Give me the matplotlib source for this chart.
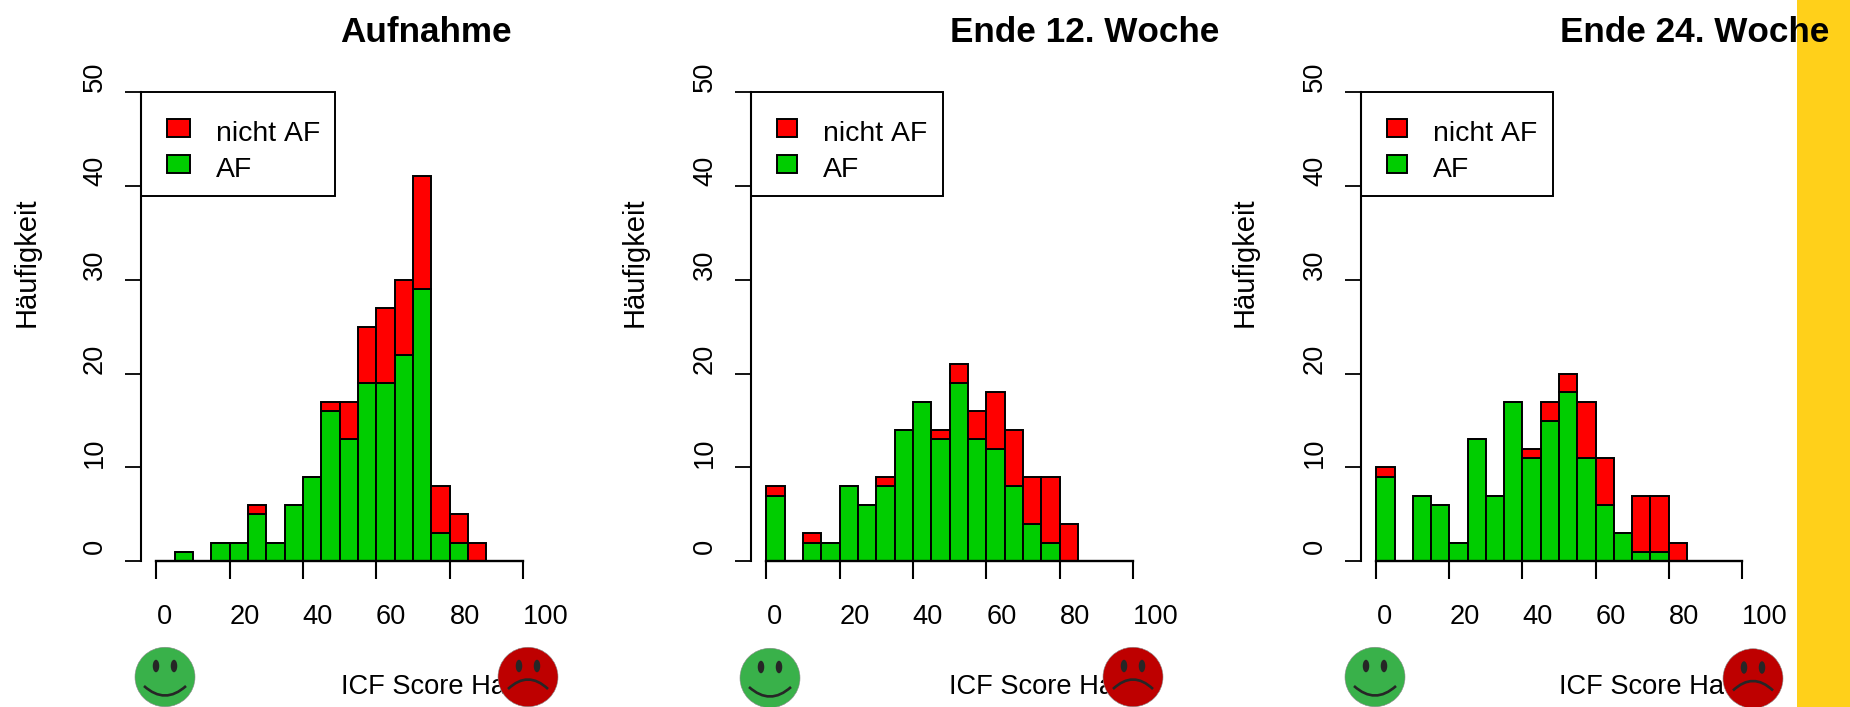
import matplotlib
matplotlib.use("Agg")
import matplotlib.pyplot as plt
import numpy as np
from matplotlib.patches import Rectangle, Ellipse, PathPatch, Patch
from matplotlib.path import Path
from matplotlib.transforms import Affine2D

plt.rcParams['font.family'] = ['Liberation Sans', 'DejaVu Sans']
plt.rcParams['text.kerning_factor'] = 12

# ---- data ----
bin_left = list(range(0, 100, 5))
titles = ["Aufnahme", "Ende 12. Woche", "Ende 24. Woche"]
aufnahme_af = [0, 1, 0, 2, 2, 5, 2, 6, 9, 16, 13, 19, 19, 22, 29, 3, 2, 0, 0, 0]
aufnahme_nicht = [0, 0, 0, 0, 0, 1, 0, 0, 0, 1, 4, 6, 8, 8, 12, 5, 3, 2, 0, 0]
w12_af = [7, 0, 2, 2, 8, 6, 8, 14, 17, 13, 19, 13, 12, 8, 4, 2, 0, 0, 0, 0]
w12_nicht = [1, 0, 1, 0, 0, 0, 1, 0, 0, 1, 2, 3, 6, 6, 5, 7, 4, 0, 0, 0]
w24_af = [9, 0, 7, 6, 2, 13, 7, 17, 11, 15, 18, 11, 6, 3, 1, 1, 0, 0, 0, 0]
w24_nicht = [1, 0, 0, 0, 0, 0, 0, 0, 1, 2, 2, 6, 5, 0, 6, 6, 2, 0, 0, 0]
x_ticks = [0, 20, 40, 60, 80, 100]
y_ticks = [0, 10, 20, 30, 40, 50]
legend_labels = ["nicht AF", "AF"]
y_label = "Häufigkeit"
x_label = "ICF Score Ha"

W, H = 1850, 707
GREEN, RED = "#00CD00", "#FF0000"
XLAB_SHIFT = [8, 15, 15, 15, 15, 23]
FS_TICK, FS_TITLE, FS_LEG = 19.6, 25.3, 20.4

series = [(aufnahme_af, aufnahme_nicht), (w12_af, w12_nicht), (w24_af, w24_nicht)]
# pixel layout of each panel
panels = [
    dict(x0=156.2, x1=523.0, ylab=26.5, ytxt=98, title_x=340, xlab_x=341, leg=(141, 334.5),
         hx=166.5, hw=23, clip=None, good=(165, 677), bad=(528, 677)),
    dict(x0=766.3, x1=1133.0, ylab=634.7, ytxt=708, title_x=950, xlab_x=949, leg=(751.3, 943),
         hx=777, hw=20, clip=1223, good=(770, 678), bad=(1133, 677)),
    dict(x0=1376.3, x1=1741.7, ylab=1245, ytxt=1318, title_x=1560, xlab_x=1559, leg=(1361, 1553),
         hx=1387, hw=20, clip=1829, good=(1375, 677), bad=(1753, 678.5)),
]
Y0, Y50 = 561.3, 92.0
PT = 72 / 100  # points per pixel

fig = plt.figure(figsize=(W / 100, H / 100), dpi=100, facecolor="white")

# background layer in pixel coordinates
bg = fig.add_axes([0, 0, 1, 1], zorder=0)
bg.set_xlim(0, W); bg.set_ylim(H, 0); bg.axis("off")
bg.add_patch(Rectangle((1797, 0), 53, H, facecolor="#FFD01A", edgecolor="none"))

# top layer in pixel coordinates
top = fig.add_axes([0, 0, 1, 1], zorder=5)
top.set_xlim(0, W); top.set_ylim(H, 0); top.axis("off"); top.patch.set_alpha(0)


def face(cx, cy, color, happy):
    top.add_patch(Ellipse((cx, cy), 60, 59.5, facecolor=color, edgecolor="#8a8a8a", lw=0.4, zorder=3))
    for dx in (-9, 9):
        top.add_patch(Ellipse((cx + dx, cy - 11), 6.5, 12.5, facecolor="#262626", edgecolor="none", zorder=4))
    if happy:
        pts = [(cx - 21, cy + 9), (cx, cy + 28), (cx + 21, cy + 9)]
    else:
        pts = [(cx - 20, cy + 12), (cx, cy - 7), (cx + 20, cy + 12)]
    top.add_patch(PathPatch(Path(pts, [Path.MOVETO, Path.CURVE3, Path.CURVE3]),
                            facecolor="none", edgecolor="#262626", lw=1.9, zorder=4))


for (af, nicht), title, p in zip(series, titles, panels):
    ax = fig.add_axes([p["x0"] / W, 1 - Y0 / H, (p["x1"] - p["x0"]) / W, (Y0 - Y50) / H], zorder=2)
    ax.patch.set_alpha(0)
    ax.bar(bin_left, af, width=5, align="edge", color=GREEN, edgecolor="black", lw=1.4, clip_on=False, zorder=3)
    ax.bar(bin_left, nicht, bottom=af, width=5, align="edge", color=RED, edgecolor="black", lw=1.4,
           clip_on=False, zorder=3)
    ax.set_xlim(0, 100); ax.set_ylim(0, 50)
    for s in ("top", "right"):
        ax.spines[s].set_visible(False)
    ax.spines["left"].set_position(("outward", 15 * PT))
    ax.spines["left"].set_linewidth(1.5)
    ax.spines["bottom"].set_linewidth(1.7)
    ax.spines["bottom"].set_zorder(4)
    ax.set_xticks(x_ticks, [str(v) for v in x_ticks])
    ax.set_yticks(y_ticks, [str(v) for v in y_ticks])
    ax.tick_params(axis="x", length=18 * PT, width=1.5, labelsize=FS_TICK, pad=25 * PT)
    ax.tick_params(axis="y", length=16 * PT, width=1.3, labelsize=FS_TICK, labelrotation=90,
                   pad=(p["x0"] - 31 - p["ytxt"] - 10) * PT)
    for lab, dx in zip(ax.get_xticklabels(), XLAB_SHIFT):
        lab.set_transform(lab.get_transform() + Affine2D().translate(dx, 0))
    for lab in ax.get_yticklabels():
        lab.set_va("center")
        lab.set_transform(lab.get_transform() + Affine2D().translate(0, 15))

    # legend (frame drawn separately because the box is not symmetric)
    handles = [Patch(facecolor=RED, edgecolor="black", lw=1.4), Patch(facecolor=GREEN, edgecolor="black", lw=1.4)]
    leg = ax.legend(handles, legend_labels, loc="upper left", frameon=False, fontsize=FS_LEG,
                    bbox_to_anchor=(p["hx"] / W, 1 - 121 / H), bbox_transform=fig.transFigure,
                    borderpad=0, borderaxespad=0, labelspacing=0.36,
                    handlelength=p["hw"] / 28.3, handleheight=17 / 28.3, handletextpad=26 / 28.3)
    for patch in leg.get_patches():
        patch.set_y(patch.get_y() + 2)
    top.add_patch(Rectangle((p["leg"][0], 92.4), p["leg"][1] - p["leg"][0], 103.6, fill=False,
                            edgecolor="black", lw=1.4, zorder=2))

    # texts
    top.text(p["ylab"], 262, y_label, rotation=90, ha="center", va="center", fontsize=21)
    tt = top.text(p["title_x"], 32, title, ha="left", va="center", fontsize=FS_TITLE, fontweight="bold")
    if p["clip"]:
        tt.set_clip_on(True)
        tt.set_clip_path(Rectangle((0, 0), p["clip"], 70, transform=top.transData))
    top.text(p["xlab_x"], 687, x_label, ha="left", va="center", fontsize=FS_TICK, zorder=1)
    face(*p["good"], "#39B14A", True)
    face(*p["bad"], "#BE0000", False)

fig.savefig("out.png", dpi=100)
